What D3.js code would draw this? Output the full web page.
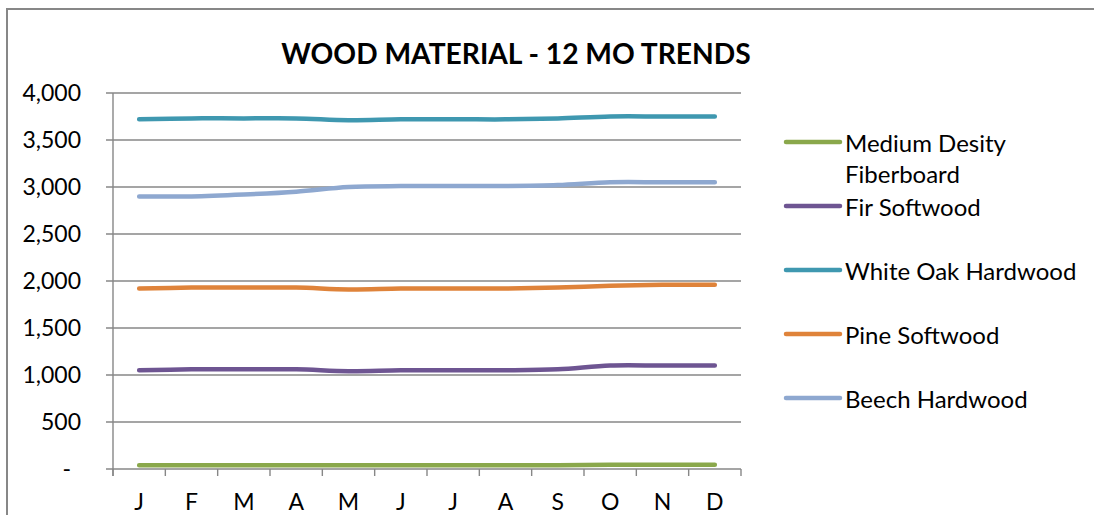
<!DOCTYPE html>
<html>
<head>
<meta charset="utf-8">
<script src="https://cdn.jsdelivr.net/npm/d3@7"></script>
<style>
  html, body { margin: 0; padding: 0; background: #fff; }
  svg { display: block; }
  text { font-family: Lato, "Open Sans", sans-serif; fill: #000; }
</style>
</head>
<body>
<svg id="chart" width="1094" height="515"></svg>
<script>
// Month initials along the category axis
const months = ["J", "F", "M", "A", "M", "J", "J", "A", "S", "O", "N", "D"];

// Series names, in legend order
const seriesNames = [
  "Medium Desity Fiberboard",
  "Fir Softwood",
  "White Oak Hardwood",
  "Pine Softwood",
  "Beech Hardwood"
];

// Monthly prices for each material
const mdfValues       = [40, 40, 40, 40, 40, 40, 40, 40, 40, 45, 45, 45];
const firValues       = [1050, 1060, 1060, 1060, 1040, 1050, 1050, 1050, 1060, 1100, 1100, 1100];
const whiteOakValues  = [3720, 3730, 3730, 3730, 3710, 3720, 3720, 3720, 3730, 3750, 3750, 3750];
const pineValues      = [1920, 1930, 1930, 1930, 1910, 1920, 1920, 1920, 1930, 1950, 1960, 1960];
const beechValues     = [2900, 2900, 2920, 2950, 3000, 3010, 3010, 3010, 3020, 3050, 3050, 3050];

// Value axis ticks
const yTicks = [0, 500, 1000, 1500, 2000, 2500, 3000, 3500, 4000];

const seriesColors = ["#8aa84b", "#6e5592", "#3f98b0", "#df833a", "#8ea8d0"];

const series = [mdfValues, firValues, whiteOakValues, pineValues, beechValues].map((values, i) => ({
  name: seriesNames[i],
  values,
  color: seriesColors[i]
}));

const svg = d3.select("#chart");
const plot = { left: 113, right: 741, top: 93, bottom: 469 };
const gridColor = "#878787";
const axisFont = "23px";

// Chart border
svg.append("rect")
  .attr("x", 7).attr("y", 9)
  .attr("width", 1110).attr("height", 540)
  .attr("fill", "#fff")
  .attr("stroke", gridColor)
  .attr("stroke-width", 2);

// Title
svg.append("text")
  .attr("x", 516).attr("y", 53)
  .attr("text-anchor", "middle")
  .attr("dominant-baseline", "central")
  .style("font-weight", "bold")
  .style("font-size", "28.2px")
  .text("WOOD MATERIAL - 12 MO TRENDS");

const x = d3.scaleBand()
  .domain(d3.range(months.length))
  .range([plot.left, plot.right])
  .paddingInner(0).paddingOuter(0);

const y = d3.scaleLinear()
  .domain([0, 4000])
  .range([plot.bottom, plot.top]);

const cx = i => x(i) + x.bandwidth() / 2;

// Horizontal gridlines
svg.append("g")
  .selectAll("line")
  .data(yTicks)
  .join("line")
  .attr("x1", plot.left - 7).attr("x2", plot.right)
  .attr("y1", d => y(d)).attr("y2", d => y(d))
  .attr("stroke", gridColor)
  .attr("stroke-width", 1.4);

// Value axis (accounting style: zero shown as a dash, set in from the right)
const yAxis = d3.axisLeft(y)
  .tickValues(yTicks)
  .tickSize(0)
  .tickPadding(32)
  .tickFormat(d => d === 0 ? "-" : d3.format(",")(d));

const yg = svg.append("g")
  .attr("transform", `translate(${plot.left},0)`)
  .call(yAxis);
yg.select(".domain").remove();
yg.selectAll("text")
  .attr("x", d => d === 0 ? -42 : -32)
  .style("font-size", axisFont)
  .style("font-family", "Lato, 'Open Sans', sans-serif")
  .attr("fill", "#000");

// Vertical axis line
svg.append("line")
  .attr("x1", plot.left).attr("x2", plot.left)
  .attr("y1", plot.top).attr("y2", plot.bottom + 7)
  .attr("stroke", gridColor).attr("stroke-width", 1.4);

// Category tick marks between months
const boundaries = d3.range(months.length).map(i => x(i)).concat([plot.right]);
svg.append("g")
  .selectAll("line")
  .data(boundaries)
  .join("line")
  .attr("x1", d => d).attr("x2", d => d)
  .attr("y1", plot.bottom).attr("y2", plot.bottom + 7)
  .attr("stroke", gridColor).attr("stroke-width", 1.4);

// Category axis labels
const xAxis = d3.axisBottom(x)
  .tickSize(0)
  .tickPadding(25)
  .tickFormat(i => months[i]);
const xg = svg.append("g")
  .attr("transform", `translate(0,${plot.bottom})`)
  .call(xAxis);
xg.select(".domain").remove();
xg.selectAll("text")
  .style("font-size", axisFont)
  .style("font-family", "Lato, 'Open Sans', sans-serif")
  .attr("fill", "#000");

// Smoothed series lines
const line = d3.line()
  .x((d, i) => cx(i))
  .y(d => y(d))
  .curve(d3.curveCatmullRom.alpha(0.5));

svg.append("g")
  .selectAll("path")
  .data(series)
  .join("path")
  .attr("d", s => line(s.values))
  .attr("fill", "none")
  .attr("stroke", s => s.color)
  .attr("stroke-width", 4.5)
  .attr("stroke-linecap", "round")
  .attr("stroke-linejoin", "round");

// Legend
const legendX = 786, legendTop = 142, legendStep = 64;
const legend = svg.append("g")
  .selectAll("g")
  .data(series)
  .join("g")
  .attr("transform", (s, i) => `translate(${legendX},${legendTop + i * legendStep})`);

legend.append("line")
  .attr("x1", 0).attr("x2", 54)
  .attr("y1", 0).attr("y2", 0)
  .attr("stroke", s => s.color)
  .attr("stroke-width", 4.5)
  .attr("stroke-linecap", "round");

legend.append("text")
  .attr("x", 59)
  .attr("y", 0)
  .style("font-size", "24px")
  .each(function (s) {
    const t = d3.select(this);
    const lines = s.name === "Medium Desity Fiberboard"
      ? ["Medium Desity", "Fiberboard"]
      : [s.name];
    lines.forEach((ln, k) => {
      t.append("tspan")
        .attr("x", 59)
        .attr("y", k * 31)
        .attr("dominant-baseline", "central")
        .text(ln);
    });
  });
</script>
</body>
</html>
